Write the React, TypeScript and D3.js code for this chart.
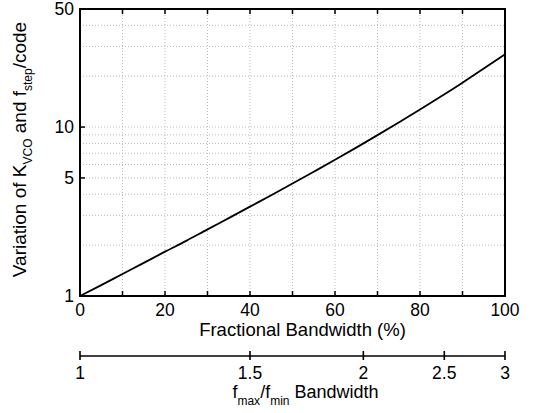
import React from "react"
import * as d3 from "d3"

// values
const bandwidth = [0, 5, 10, 15, 20, 25, 30, 35, 40, 45, 50, 55, 60, 65, 70, 75, 80, 85, 90, 95, 100]
const variation = [1, 1.16, 1.35, 1.57, 1.83, 2.12, 2.48, 2.89, 3.38, 3.95, 4.63, 5.44, 6.4, 7.56, 8.96, 10.65, 12.7, 15.2, 18.3, 22.2, 27]

const xTicks = [0, 20, 40, 60, 80, 100]
const xMinor = [0, 10, 20, 30, 40, 50, 60, 70, 80, 90, 100]
const yTicks = [1, 5, 10, 50]
const yGrid = [2, 3, 4, 5, 6, 7, 8, 9, 10, 20, 30, 40]
const ratioTicks = [1, 1.5, 2, 2.5, 3]

const W = 533
const H = 413
const margin = { top: 9, left: 80, right: 28, bottom: 117 }
const font = "Liberation Sans, Arial, sans-serif"

export default function App() {
    const innerW = W - margin.left - margin.right
    const innerH = H - margin.top - margin.bottom

    const x = d3.scaleLinear().domain([0, 100]).range([0, innerW])
    const y = d3.scaleLog().domain([1, 50]).range([innerH, 0])
    // fmax/fmin ratio -> fractional bandwidth (%)
    const ratioX = (r: number) => x((200 * (r - 1)) / (r + 1))

    const line = d3.line<number>()
        .x((_, i) => x(bandwidth[i]))
        .y(d => y(d))
        .curve(d3.curveMonotoneX)

    const axisY = innerH + 60

    return (
        <svg width={W} height={H} style={{ position: "absolute", left: 0, top: 0, background: "#fff" }}
            fontFamily={font}>
            <g transform={`translate(${margin.left},${margin.top})`}>
                {xMinor.map(v => (
                    <line key={"gx" + v} x1={x(v)} x2={x(v)} y1={0} y2={innerH}
                        stroke="#aaa" strokeWidth={0.8} strokeDasharray="1,2" />
                ))}
                {yGrid.map(v => (
                    <line key={"gy" + v} x1={0} x2={innerW} y1={y(v)} y2={y(v)}
                        stroke="#aaa" strokeWidth={0.8} strokeDasharray="1,2" />
                ))}
                {xMinor.map(v => (
                    <g key={"tx" + v}>
                        <line x1={x(v)} x2={x(v)} y1={innerH} y2={innerH - 5} stroke="#000" strokeWidth={1.5} />
                        <line x1={x(v)} x2={x(v)} y1={0} y2={5} stroke="#000" strokeWidth={1.5} />
                    </g>
                ))}
                {yTicks.map(v => (
                    <g key={"ty" + v}>
                        <line x1={0} x2={5} y1={y(v)} y2={y(v)} stroke="#000" strokeWidth={1.5} />
                        <text x={-6} y={y(v)} dy="0.34em" textAnchor="end" fontSize={17.5}>{v}</text>
                    </g>
                ))}
                {xTicks.map(v => (
                    <text key={"lx" + v} x={x(v)} y={innerH + 20} textAnchor="middle" fontSize={17.5}>{v}</text>
                ))}
                <path d={line(variation) || ""} fill="none" stroke="#000" strokeWidth={1.8} />
                <rect x={0} y={0} width={innerW} height={innerH} fill="none" stroke="#000" strokeWidth={2} />

                <text x={innerW / 2 + 10} y={innerH + 40} textAnchor="middle" fontSize={18.5}>Fractional Bandwidth (%)</text>
                <text transform={`translate(-54,${innerH / 2 - 3}) rotate(-90)`} textAnchor="middle" fontSize={19}>
                    Variation of K<tspan dy="6" fontSize={12}>VCO</tspan>
                    <tspan dy="-6"> and f</tspan><tspan dy="6" fontSize={12}>step</tspan>
                    <tspan dy="-6">/code</tspan>
                </text>

                <line x1={0} x2={innerW} y1={axisY} y2={axisY} stroke="#000" strokeWidth={1.6} />
                {ratioTicks.map(v => (
                    <g key={"r" + v}>
                        <line x1={ratioX(v)} x2={ratioX(v)} y1={axisY - 5} y2={axisY + 4} stroke="#000" strokeWidth={1.6} />
                        <text x={ratioX(v)} y={axisY + 23} textAnchor="middle" fontSize={17.5}>{v}</text>
                    </g>
                ))}
                <text x={innerW / 2 + 13} y={axisY + 42} textAnchor="middle" fontSize={18}>
                    f<tspan dy="7" fontSize={12}>max</tspan><tspan dy="-7">/f</tspan>
                    <tspan dy="7" fontSize={12}>min</tspan><tspan dy="-7"> Bandwidth</tspan>
                </text>
            </g>
        </svg>
    )
}
